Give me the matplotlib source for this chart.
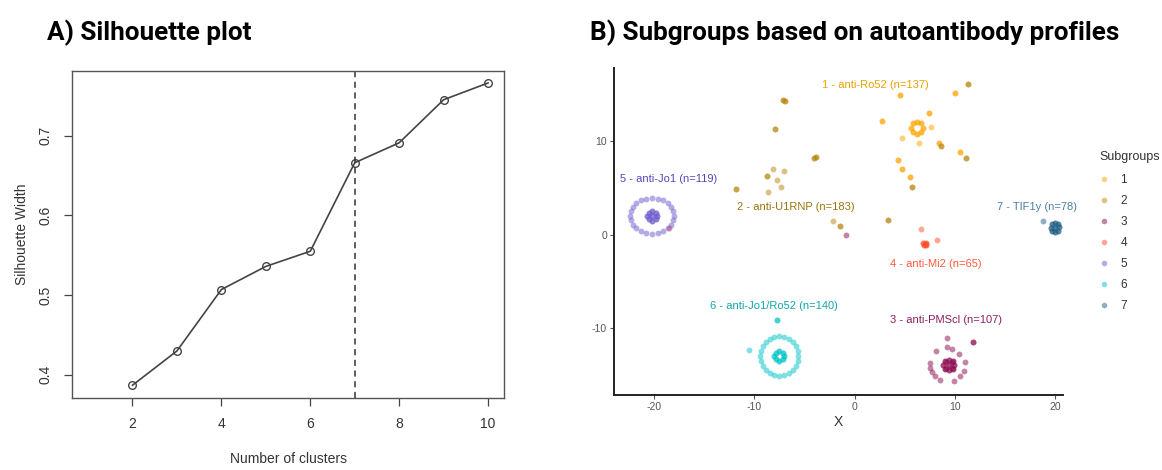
import matplotlib
matplotlib.use("Agg")
import matplotlib.pyplot as plt
from matplotlib.lines import Line2D

plt.rcParams["axes.unicode_minus"] = False

# ---- Panel A data: silhouette width per number of clusters
n_clusters = [2, 3, 4, 5, 6, 7, 8, 9, 10]
sil_width = [0.387, 0.430, 0.507, 0.536, 0.555, 0.666, 0.691, 0.745, 0.766]
chosen_k = 7

# ---- Panel B data: embedding coordinates per subgroup
# (repeated coordinates = overlapping patients)
c1_x = [4.5, 4.5, 10.0, 10.0, 7.4, 7.4, 2.7, 2.7, 7.6, 4.7, 6.4, 8.4, 8.4,
        10.5, 10.5, 4.3, 4.3, 4.75, 4.75, 5.5, 5.5,
        6.8, 6.6, 6.2, 5.8, 5.6, 5.8, 6.2, 6.6, 6.8, 6.6, 6.2, 5.8, 5.6, 5.8, 6.2, 6.6]
c1_y = [14.9, 14.9, 15.05, 15.05, 13.0, 13.0, 12.1, 12.1, 11.5, 10.35, 9.8, 9.8, 9.8,
        8.8, 8.8, 8.0, 8.0, 6.97, 6.97, 6.1, 6.1,
        11.4, 11.85, 12.05, 11.85, 11.4, 10.95, 10.75, 10.95, 11.4, 11.85, 12.05, 11.85, 11.4, 10.95, 10.75, 10.95]

c2_x = [-7.15, -7.15, -6.95, -6.95, -7.95, -7.95, -3.8, -3.8, -4.05, -4.05, -8.7, -8.7,
        -11.8, -11.8, -1.45, -1.45, 8.6, 8.6, 11.1, 11.1, 11.3, 11.3, 5.7, 5.7, 3.3, 3.3,
        -8.15, -7.05, -7.7, -7.3, -8.65, -2.15]
c2_y = [14.3, 14.3, 14.2, 14.2, 11.3, 11.3, 8.3, 8.3, 8.2, 8.2, 6.3, 6.3,
        4.9, 4.9, 0.9, 0.9, 9.45, 9.45, 8.2, 8.2, 16.1, 16.1, 5.1, 5.1, 1.6, 1.6,
        7.04, 6.8, 5.8, 5.1, 4.5, 1.45]

c3_x = [9.4, 9.95, 9.79, 9.4, 9.01, 8.85, 9.01, 9.4, 9.79, 9.7, 9.1, 9.1, 9.7,
        9.4, 9.95, 9.79, 9.4, 9.01, 8.85, 9.01, 9.4, 9.79,
        7.5, 8.1, 9.2, 9.74, 10.44, 11.04, 10.9, 10.54, 9.9, 8.57, 7.7, 7.55, 8.0,
        9.2, 11.8, 11.8, -0.9]
c3_y = [-13.9, -13.9, -13.51, -13.35, -13.51, -13.9, -14.29, -14.45, -14.29, -13.6, -13.6, -14.2, -14.2,
        -13.9, -13.9, -13.51, -13.35, -13.51, -13.9, -14.29, -14.45, -14.29,
        -13.7, -12.4, -12.0, -12.24, -12.7, -13.6, -14.5, -15.1, -15.66, -15.55, -14.66, -14.2, -15.1,
        -11.0, -11.4, -11.4, 0.0]

c4_x = [7.0, 6.85, 7.15, 6.9, 7.1, 7.0, 6.85, 7.15, 6.9, 7.1, 8.2, 6.6, -18.5]
c4_y = [-1.0, -0.9, -1.1, -1.15, -0.85, -1.0, -0.9, -1.1, -1.15, -0.85, -0.6, 0.6, 0.7]

c5_x = [-18.0, -18.07, -18.29, -18.64, -19.1, -19.63, -20.2, -20.77, -21.3, -21.76, -22.11, -22.33,
        -22.4, -22.33, -22.11, -21.76, -21.3, -20.77, -20.2, -19.63, -19.1, -18.64, -18.29, -18.07,
        -20.2, -19.7, -20.7, -20.2, -20.2, -19.85, -20.55, -19.85, -20.55,
        -20.2, -19.7, -20.7, -20.2, -20.2, -19.85, -20.55, -19.85, -20.55]
c5_y = [2.0, 2.49, 2.95, 3.34, 3.65, 3.84, 3.9, 3.84, 3.65, 3.34, 2.95, 2.49,
        2.0, 1.51, 1.05, 0.66, 0.35, 0.16, 0.1, 0.16, 0.35, 0.66, 1.05, 1.51,
        2.0, 2.0, 2.0, 2.5, 1.5, 2.35, 2.35, 1.65, 1.65,
        2.0, 2.0, 2.0, 2.5, 1.5, 2.35, 2.35, 1.65, 1.65]

c6_x = [-5.6, -5.66, -5.85, -6.16, -6.55, -7.01, -7.5, -7.99, -8.45, -8.84, -9.15, -9.34,
        -9.4, -9.34, -9.15, -8.84, -8.45, -7.99, -7.5, -7.01, -6.55, -6.16, -5.85, -5.66,
        -7.0, -7.15, -7.5, -7.85, -8.0, -7.85, -7.5, -7.15,
        -7.0, -7.15, -7.5, -7.85, -8.0, -7.85, -7.5, -7.15,
        -7.7, -7.7, -10.5]
c6_y = [-12.95, -12.41, -11.9, -11.47, -11.13, -10.92, -10.85, -10.92, -11.13, -11.47, -11.9, -12.41,
        -12.95, -13.49, -14.0, -14.43, -14.77, -14.98, -15.05, -14.98, -14.77, -14.43, -14.0, -13.49,
        -12.95, -12.6, -12.45, -12.6, -12.95, -13.3, -13.45, -13.3,
        -12.95, -12.6, -12.45, -12.6, -12.95, -13.3, -13.45, -13.3,
        -9.1, -9.1, -12.35]

c7_x = [20.0, 20.4, 19.6, 20.0, 20.0, 20.3, 19.7, 20.3, 19.7,
        20.0, 20.4, 19.6, 20.0, 20.0, 20.3, 19.7, 20.3, 19.7, 18.8]
c7_y = [0.75, 0.8, 0.7, 1.2, 0.3, 1.1, 1.1, 0.4, 0.4,
        0.75, 0.8, 0.7, 1.2, 0.3, 1.1, 1.1, 0.4, 0.4, 1.4]

subgroup_ids = ["1", "2", "3", "4", "5", "6", "7"]
subgroup_labels = ["1 - anti-Ro52 (n=137)", "2 - anti-U1RNP (n=183)", "3 - anti-PMScl (n=107)",
                   "4 - anti-Mi2 (n=65)", "5 - anti-Jo1 (n=119)", "6 - anti-Jo1/Ro52 (n=140)",
                   "7 - TIF1y (n=78)"]
label_x = [2.1, -5.9, 9.1, 8.1, -18.5, -8.0, 18.2]
label_y = [15.9, 2.95, -9.15, -3.1, 5.9, -7.65, 2.9]

point_colors = ["#FFA500", "#B8860B", "#8B0A50", "#FF4D2E", "#6A5ACD", "#00C5C8", "#1F5F85"]
text_colors = ["#E8A200", "#9A7410", "#8B1F5E", "#FF5A3C", "#5646B8", "#12A5A8", "#4A80A3"]

clusters = [(c1_x, c1_y), (c2_x, c2_y), (c3_x, c3_y), (c4_x, c4_y),
            (c5_x, c5_y), (c6_x, c6_y), (c7_x, c7_y)]

fig = plt.figure(figsize=(11.62, 4.70), dpi=100)

# ---------------- Panel A
axA = fig.add_axes([0.062, 0.1532, 0.3718, 0.6957])
axA.plot(n_clusters, sil_width, color="#444444", lw=1.2, marker="o", ms=5.5,
         mfc="none", mec="#444444", mew=1.0)
axA.axvline(chosen_k, color="#333333", lw=1.1, ls=(0, (4, 3)))
axA.set_xlim(0.64, 10.36)
axA.set_ylim(0.371, 0.781)
axA.set_xticks([2, 4, 6, 8, 10])
axA.set_yticks([0.4, 0.5, 0.6, 0.7])
axA.set_yticklabels(["0.4", "0.5", "0.6", "0.7"], rotation=90, va="center")
axA.tick_params(length=6, width=0.9, colors="#444444", labelcolor="#333333",
                labelsize=10, pad=8)
for s in axA.spines.values():
    s.set_color("#555555")
    s.set_linewidth(1.0)
for lab in axA.get_xticklabels() + axA.get_yticklabels():
    lab.set_family("Liberation Sans")
axA.set_xlabel("Number of clusters", family="Liberation Sans", fontsize=10,
               color="#333333", labelpad=15)
axA.set_ylabel("Silhouette Width", family="Liberation Sans", fontsize=10,
               color="#333333", labelpad=7)
fig.text(47 / 1162, 1 - 40.5 / 470, "A) Silhouette plot", family="Roboto", weight="bold",
         fontsize=18.8, va="baseline", ha="left")

# ---------------- Panel B
axB = fig.add_axes([0.5284, 0.1596, 0.3864, 0.6957])
for (xs, ys), pc in zip(clusters, point_colors):
    axB.scatter(xs, ys, s=18, color=pc, alpha=0.5, linewidths=0)
for lab, lx, ly, tc in zip(subgroup_labels, label_x, label_y, text_colors):
    axB.text(lx, ly, lab, color=tc, fontsize=8, family="Liberation Sans",
             ha="center", va="center")
axB.set_xlim(-24, 20.8)
axB.set_ylim(-17.1, 17.76)
axB.set_xticks([-20, -10, 0, 10, 20])
axB.set_yticks([-10, 0, 10])
axB.spines["top"].set_visible(False)
axB.spines["right"].set_visible(False)
for side in ("left", "bottom"):
    axB.spines[side].set_color("#222222")
    axB.spines[side].set_linewidth(1.4)
axB.tick_params(length=3, width=0.8, colors="#555555", labelcolor="#555555",
                labelsize=7.5, pad=2)
for lab in axB.get_xticklabels() + axB.get_yticklabels():
    lab.set_family("Liberation Sans")
axB.set_xlabel("X", family="Liberation Sans", fontsize=10, color="#333333", labelpad=2)
fig.text(590 / 1162, 1 - 40.5 / 470, "B) Subgroups based on autoantibody profiles",
         family="Roboto", weight="bold", fontsize=18.8, va="baseline", ha="left")

handles = [Line2D([], [], ls="none", marker="o", ms=4, color=pc, alpha=0.5, mew=0)
           for pc in point_colors]
leg = fig.legend(handles, subgroup_ids, title="Subgroups", loc="upper left",
                 bbox_to_anchor=(1099 / 1162, 1 - 151 / 470), frameon=False,
                 handlelength=0.9, handletextpad=0.9, labelspacing=0.76,
                 borderaxespad=0, borderpad=0,
                 prop={"family": "Liberation Sans", "size": 8.5})
leg.get_title().set_fontsize(9)
leg.get_title().set_family("Liberation Sans")
leg.get_title().set_color("#333333")
leg._legend_box.align = "left"
leg._legend_box.sep = 8
for t in leg.get_texts():
    t.set_color("#333333")

fig.savefig("out.png", dpi=100)
